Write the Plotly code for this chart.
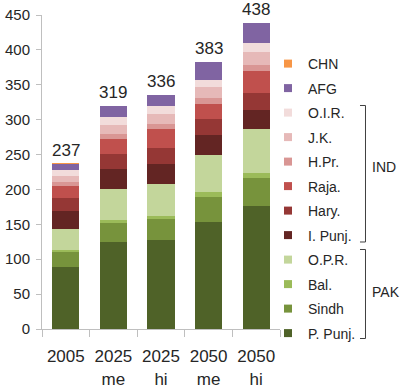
import plotly.graph_objects as go

categories = ["2005<br> ", "2025<br>me", "2025<br>hi", "2050<br>me", "2050<br>hi"]

# stack order bottom -> top
series_names = ["P. Punj.", "Sindh", "Bal.", "O.P.R.", "I. Punj.", "Hary.", "Raja.",
                "H.Pr.", "J.K.", "O.I.R.", "AFG", "CHN"]
p_punj = [89, 124, 128, 154, 176]
sindh = [21, 27.5, 30, 35, 41]
bal = [3.5, 4.5, 4.5, 7, 7]
opr = [30, 44, 45, 54, 62]
i_punj = [26, 29, 28.5, 28.5, 28.5]
hary = [18, 21.5, 23.5, 22, 24]
raja = [17, 22.5, 27.5, 22.5, 31.5]
hpr = [5.5, 7, 7, 8.5, 9]
jk = [9.5, 13, 14.5, 15, 18]
oir = [8.5, 10.5, 10.5, 11, 13.5]
afg = [8.6, 15.5, 17, 25.5, 28]
chn = [0.4, 0, 0, 0, 0]
totals = [237, 319, 336, 383, 438]

series_values = [p_punj, sindh, bal, opr, i_punj, hary, raja, hpr, jk, oir, afg, chn]
colors = ["#4F6228", "#77933C", "#9BBB59", "#C3D69B", "#632523", "#953735", "#C0504D",
          "#D99694", "#E6B9B8", "#F2DCDB", "#8064A2", "#F79646"]

fig = go.Figure()
for name, vals, col in zip(series_names, series_values, colors):
    fig.add_trace(go.Bar(x=categories, y=vals, name=name, marker_color=col,
                         marker_line_width=0, showlegend=False))

# legend entries (small squares), top to bottom
for name, col in reversed(list(zip(series_names, colors))):
    fig.add_trace(go.Scatter(x=[None], y=[None], mode="markers", name=name,
                             legendgroup=name,
                             marker=dict(symbol="square", size=8, color=col)))

for c, t in zip(categories, totals):
    fig.add_annotation(x=c, y=t, text=str(t), showarrow=False, yanchor="bottom",
                       yshift=2, font=dict(size=17, color="#262626"))

# plot-area pixel geometry for brackets
L, R, T, B = 42, 280, 15, 329
def px(xp):
    return (xp - L) / (R - L)
def py(yp):
    return (B - yp) / (B - T)

def bracket(y0, y1):
    return dict(type="path", xref="paper", yref="paper",
                path=f"M {px(360):.4f},{py(y0):.4f} L {px(365.5):.4f},{py(y0):.4f} L {px(365.5):.4f},{py(y1):.4f} L {px(360):.4f},{py(y1):.4f}",
                line=dict(color="#404040", width=1))

fig.add_shape(bracket(105.5, 242))
fig.add_shape(bracket(249.5, 338.5))
fig.add_annotation(xref="paper", yref="paper", x=px(370), y=py(167), text="IND",
                   showarrow=False, xanchor="left", yanchor="middle",
                   font=dict(size=14, color="#262626"))
fig.add_annotation(xref="paper", yref="paper", x=px(370), y=py(292), text="PAK",
                   showarrow=False, xanchor="left", yanchor="middle",
                   font=dict(size=14, color="#262626"))

fig.update_layout(
    width=405, height=390,
    margin=dict(l=L, r=405 - R, t=T, b=390 - B, autoexpand=False),
    barmode="stack", bargap=0.43,
    plot_bgcolor="white", paper_bgcolor="white",
    font=dict(family="Liberation Sans, Arial, sans-serif", color="#262626"),
    legend=dict(x=px(268), xanchor="left", y=py(48), yanchor="top",
                traceorder="grouped", tracegroupgap=3.3, maxheight=1,
                font=dict(size=14, color="#262626"), itemwidth=30,
                bgcolor="rgba(0,0,0,0)"),
    xaxis=dict(type="category", showline=True, linecolor="#BFBFBF", linewidth=1,
               ticks="outside", tickson="boundaries", ticklen=7, tickcolor="#BFBFBF",
               tickangle=0, automargin=False, ticklabelstandoff=12,
               tickfont=dict(size=17, color="#262626"), showgrid=False),
    yaxis=dict(range=[0, 450], dtick=50, showline=True, linecolor="#BFBFBF", linewidth=1,
               ticks="outside", ticklen=5, tickcolor="#BFBFBF", showgrid=False,
               automargin=False, ticklabelstandoff=3,
               zeroline=False, tickfont=dict(size=15, color="#262626")),
)

fig.write_html("out.html")
